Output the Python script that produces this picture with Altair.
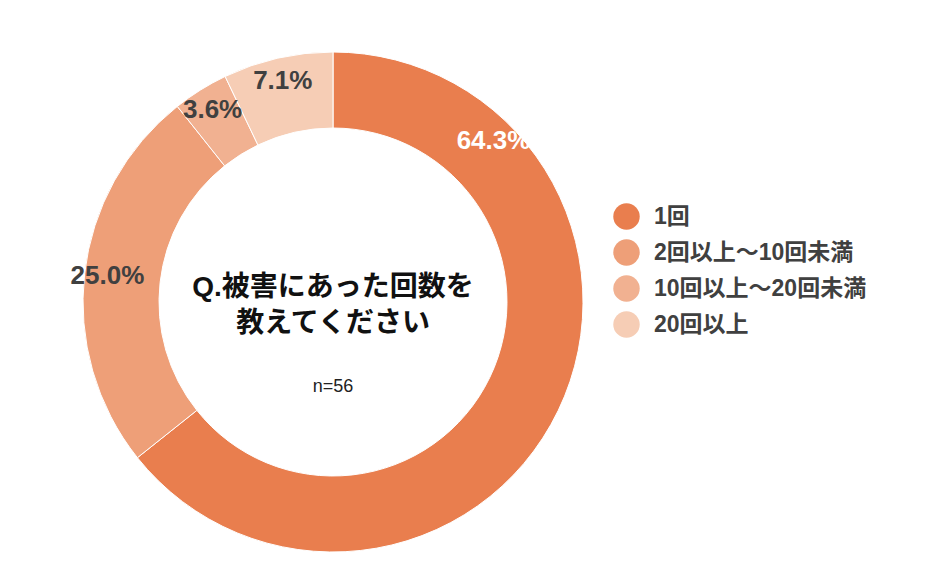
import altair as alt
import pandas as pd

categories = ["1回", "2回以上～10回未満", "10回以上～20回未満", "20回以上"]
values = [64.3, 25.0, 3.6, 7.1]
colors = ["#E97E4E", "#EE9F78", "#F1B191", "#F6CDB5"]
label_colors = ["#FFFFFF", "#404040", "#404040", "#404040"]
center_title = "Q.被害にあった回数を\n教えてください"
sample_note = "n=56"

df = pd.DataFrame({
    "cat": categories,
    "val": values,
    "ord": list(range(len(categories))),
    "lab": [f"{v:.1f}%" for v in values],
    "lc": label_colors,
})

FONT = "Liberation Sans, Noto Sans CJK JP"
CX, CY = 333, 302

base = alt.Chart(df)

arcs = base.mark_arc(outerRadius=250, innerRadius=174, stroke="white", strokeWidth=1).encode(
    theta=alt.Theta("val:Q", stack=True),
    order=alt.Order("ord:Q"),
    color=alt.Color(
        "cat:N",
        scale=alt.Scale(domain=categories, range=colors),
        sort=categories,
        legend=alt.Legend(
            title=None, orient="none", legendX=613, legendY=203,
            symbolType="circle", symbolSize=700, symbolStrokeWidth=0,
            labelFont=FONT, labelFontSize=23, labelFontWeight="bold",
            labelColor="#404040", rowPadding=9, labelOffset=14,
            labelLimit=400,
        ),
    ),
    x=alt.value(CX),
    y=alt.value(CY),
)

labels = base.transform_window(
    cum="sum(val)", sort=[alt.SortField("ord")]
).transform_joinaggregate(total="sum(val)").transform_calculate(
    start="(datum.cum - datum.val) / datum.total * 2 * PI",
    mid="(datum.cum - datum.val / 2) / datum.total * 2 * PI",
).transform_calculate(
    lt="min(datum.mid, datum.start + PI / 4)"
).mark_text(font=FONT, fontSize=26, fontWeight="bold", radius=227).encode(
    theta=alt.Theta("lt:Q", scale=None),
    text="lab:N",
    color=alt.Color("lc:N", scale=None),
    x=alt.value(CX),
    y=alt.value(CY),
)

title_df = pd.DataFrame({"t": [center_title]})
title_text = alt.Chart(title_df).mark_text(
    font=FONT, fontSize=28, fontWeight="bold", color="#111111",
    lineBreak="\n", lineHeight=36, baseline="middle",
).encode(text="t:N", x=alt.value(CX), y=alt.value(288))

n_df = pd.DataFrame({"t": [sample_note]})
n_text = alt.Chart(n_df).mark_text(font=FONT, fontSize=18, color="#222222").encode(
    text="t:N", x=alt.value(CX), y=alt.value(387)
)

chart = alt.layer(arcs, labels, title_text, n_text).resolve_scale(
    color="independent"
).properties(
    width=934, height=582, padding=0, autosize=alt.AutoSizeParams(type="none"),
    background="white",
).configure_view(stroke=None)

chart.save("out.html", embed_options={"renderer": "svg", "actions": False})
